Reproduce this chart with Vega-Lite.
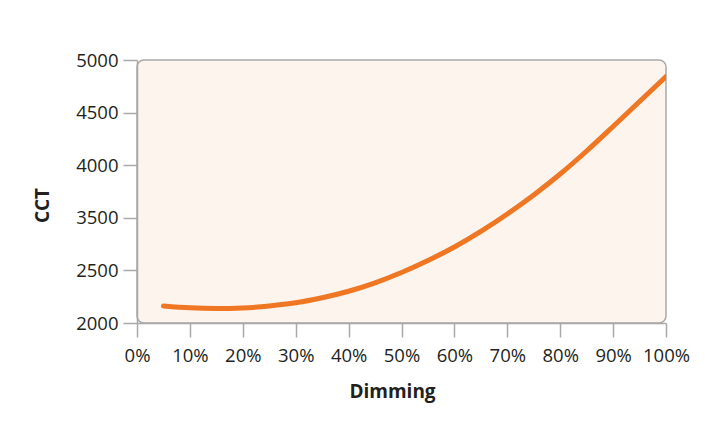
{
  "$schema": "https://vega.github.io/schema/vega-lite/v6.json",
  "autosize": "none",
  "padding": {"left": 137, "top": 60, "right": 53, "bottom": 100},
  "width": 529,
  "height": 263,
  "background": "white",
  "config": {
    "font": "Open Sans",
    "view": {"fill": "#fdf4ee", "stroke": "#a9a9a9", "strokeWidth": 1.5, "cornerRadius": 7},
    "axis": {
      "domainColor": "#a9a9a9", "domainWidth": 1.5,
      "tickColor": "#a9a9a9", "tickWidth": 1.5, "tickSize": 14,
      "labelColor": "#231f20", "labelFont": "Open Sans", "labelFontSize": 18.5,
      "titleColor": "#231f20", "titleFont": "Open Sans", "titleFontSize": 19, "titleFontWeight": "bold",
      "grid": false
    }
  },
  "data": {
    "values": [
      {"dim": 0.05, "cct": 2162},
      {"dim": 0.10, "cct": 2144},
      {"dim": 0.15, "cct": 2138},
      {"dim": 0.20, "cct": 2143},
      {"dim": 0.25, "cct": 2162},
      {"dim": 0.30, "cct": 2192},
      {"dim": 0.35, "cct": 2240},
      {"dim": 0.40, "cct": 2302},
      {"dim": 0.45, "cct": 2382},
      {"dim": 0.50, "cct": 2480},
      {"dim": 0.55, "cct": 2594},
      {"dim": 0.60, "cct": 2722},
      {"dim": 0.65, "cct": 2870},
      {"dim": 0.70, "cct": 3036},
      {"dim": 0.75, "cct": 3217},
      {"dim": 0.80, "cct": 3416},
      {"dim": 0.85, "cct": 3635},
      {"dim": 0.90, "cct": 3868},
      {"dim": 0.95, "cct": 4106},
      {"dim": 1.00, "cct": 4343}
    ]
  },
  "mark": {"type": "line", "color": "#ef7623", "strokeWidth": 5, "strokeCap": "round", "interpolate": "monotone", "clip": true},
  "encoding": {
    "x": {
      "field": "dim", "type": "quantitative",
      "scale": {"domain": [0, 1], "nice": false, "zero": false},
      "axis": {
        "title": "Dimming", "format": ".0%",
        "values": [0, 0.1, 0.2, 0.3, 0.4, 0.5, 0.6, 0.7, 0.8, 0.9, 1],
        "labelPadding": 9, "labelFlush": false,
        "titleX": 255, "titleY": 74, "titleBaseline": "alphabetic", "titleAnchor": null
      }
    },
    "y": {
      "field": "cct", "type": "quantitative",
      "scale": {"domain": [2000, 4500], "nice": false, "zero": false},
      "axis": {
        "title": "CCT",
        "values": [2000, 2500, 3000, 3500, 4000, 4500],
        "labelExpr": "datum.value >= 3000 ? format(datum.value + 500, 'd') : format(datum.value, 'd')",
        "labelPadding": 5, "labelFlush": false,
        "titleX": -95, "titleY": 145, "titleAngle": -90, "titleAlign": "center", "titleBaseline": "middle"
      }
    }
  }
}
